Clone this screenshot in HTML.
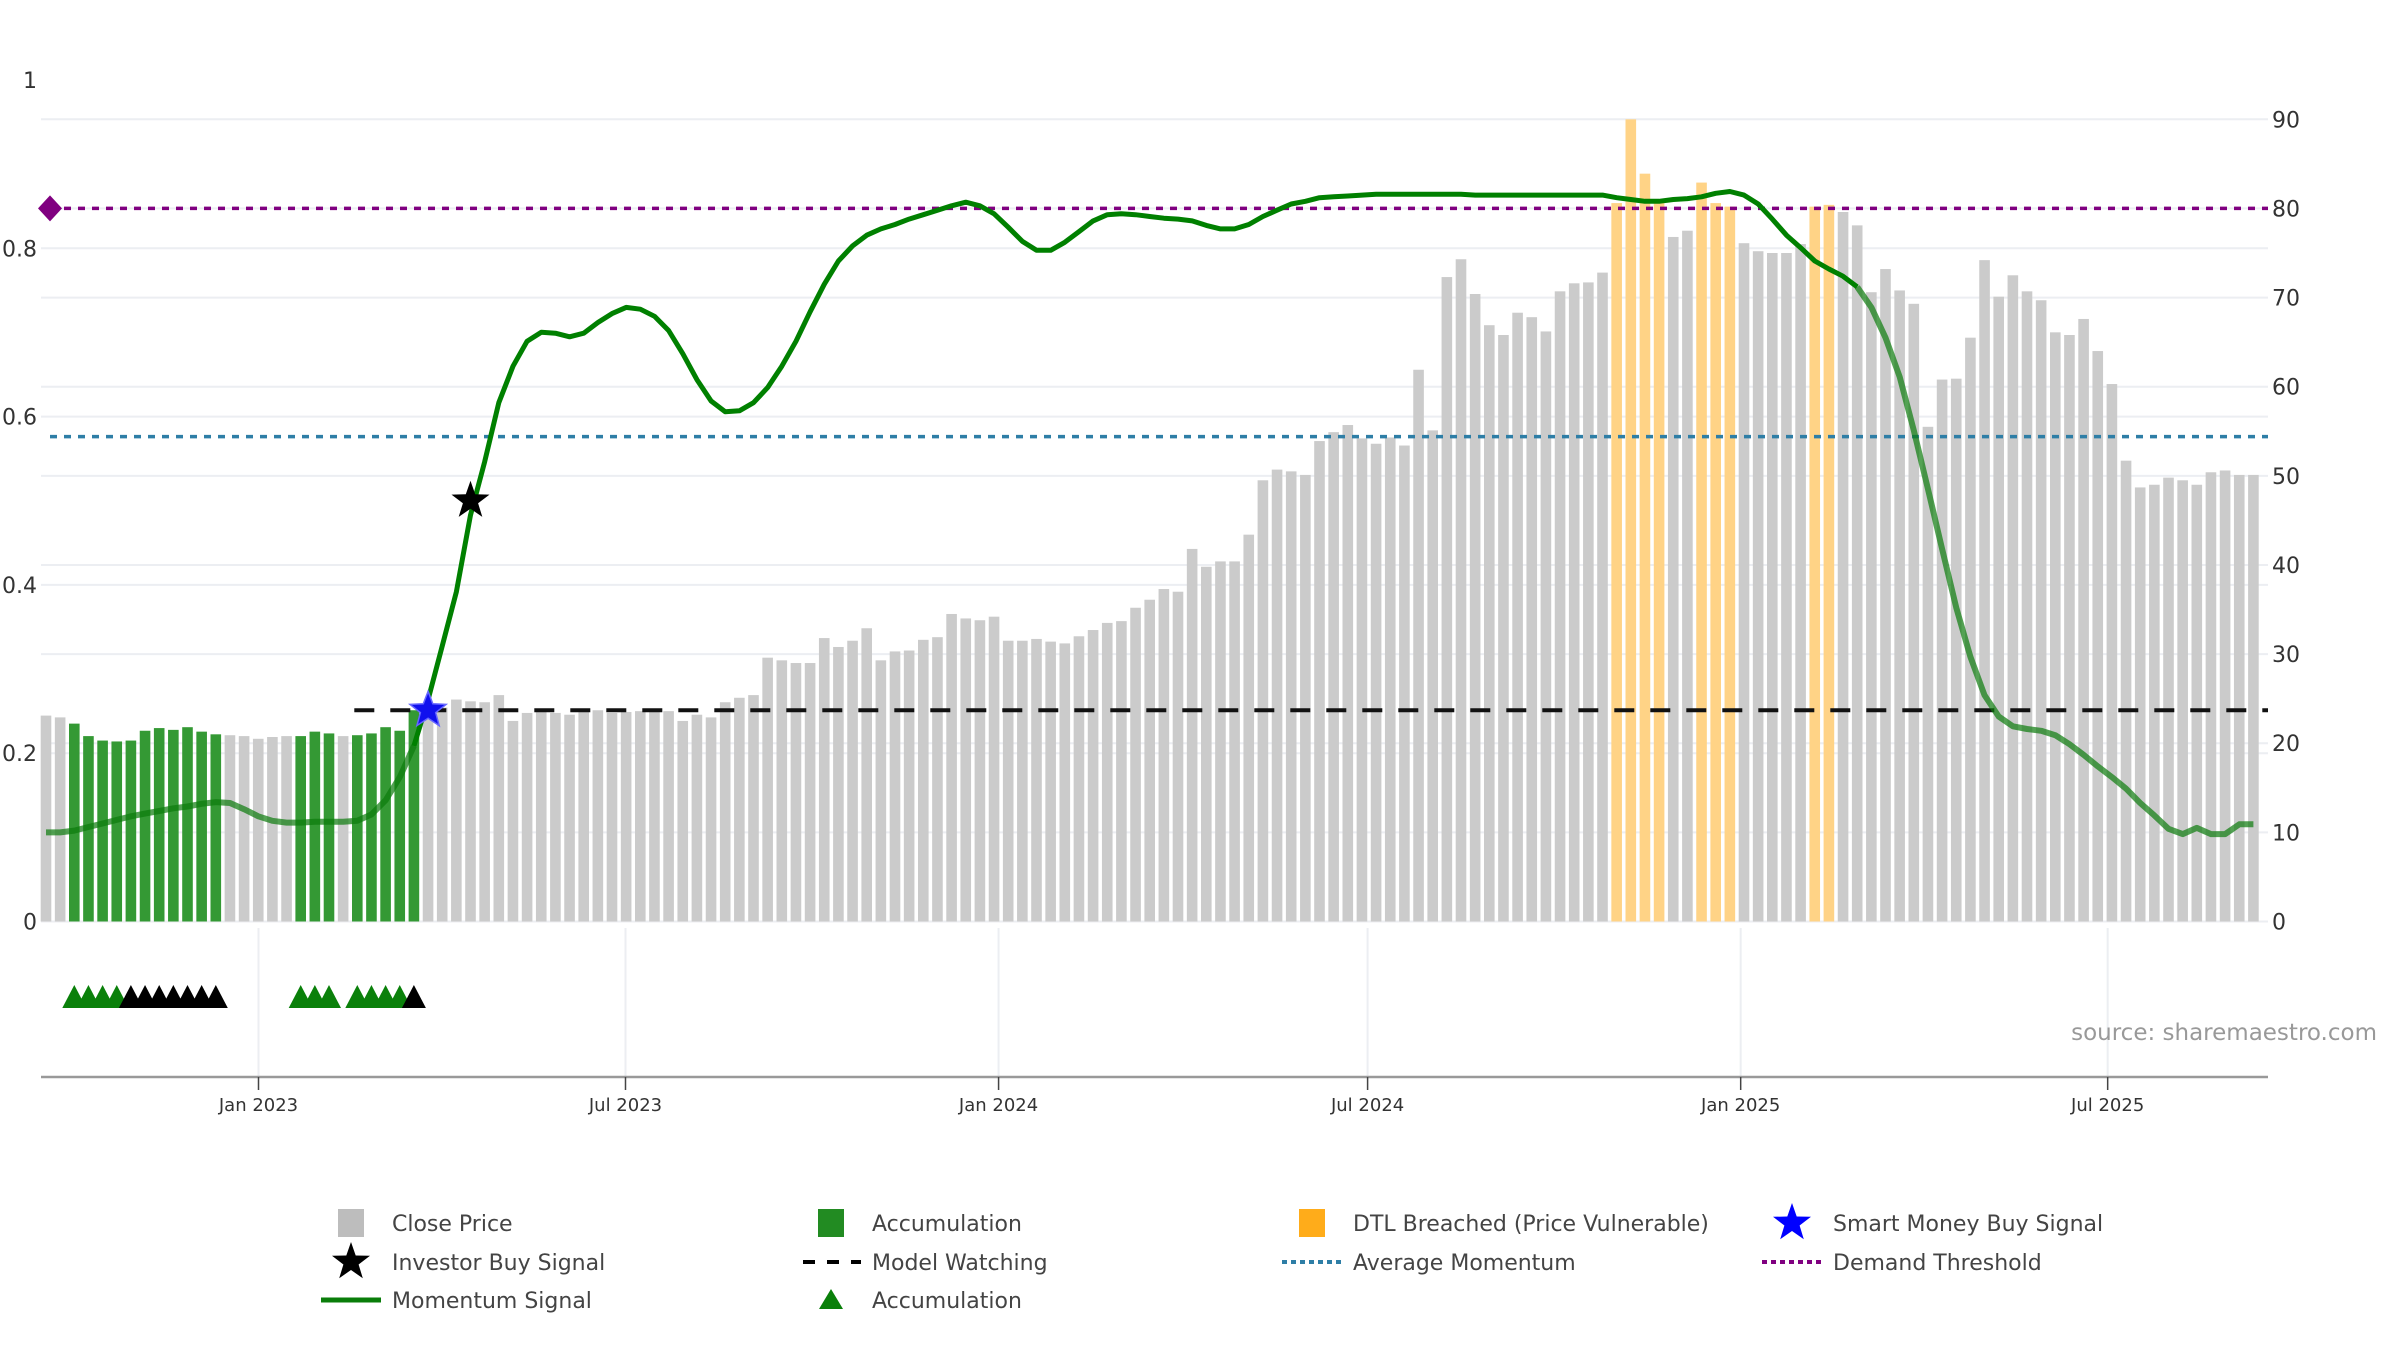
<!DOCTYPE html>
<html>
<head>
<meta charset="utf-8">
<style>
  html,body{margin:0;padding:0;background:#fff;}
  svg{display:block;font-family:"DejaVu Sans","Liberation Sans",sans-serif;}
</style>
</head>
<body>
<svg id="chart" width="2400" height="1350" viewBox="0 0 2400 1350" xmlns="http://www.w3.org/2000/svg">
  <g id="grid"></g>
  <g id="bars"></g>
  <g id="refs"></g>
  <g id="lines"></g>
  <g id="marks"></g>
  <g id="lower"></g>
  <g id="axes"></g>
  <g id="legend"></g>
  <text x="2377" y="1040" text-anchor="end" font-size="23" fill="#999">source: sharemaestro.com</text>
</svg>
<script>
// ---- data ----
const closePrices = [23.1,22.9,22.2,20.8,20.3,20.2,20.3,21.4,21.7,21.5,21.8,21.3,21.0,20.9,20.8,20.5,20.7,20.8,20.8,21.3,
21.1,20.8,20.9,21.1,21.8,21.4,23.7,24.0,24.0,24.9,24.7,24.6,25.4,22.5,23.4,23.7,23.4,23.2,23.6,23.7,
23.4,23.5,23.6,23.6,23.6,22.5,23.2,22.9,24.6,25.1,25.4,29.6,29.3,29.0,29.0,31.8,30.8,31.5,32.9,29.3,
30.3,30.4,31.6,31.9,34.5,34.0,33.8,34.2,31.5,31.5,31.7,31.4,31.2,32.0,32.7,33.5,33.7,35.2,36.1,37.3,
37.0,41.8,39.8,40.4,40.4,43.4,49.5,50.7,50.5,50.1,53.9,54.9,55.7,54.2,53.6,54.3,53.4,61.9,55.1,72.3,
74.3,70.4,66.9,65.8,68.3,67.8,66.2,70.7,71.6,71.7,72.8,80.6,90.0,83.9,80.6,76.8,77.5,82.9,80.6,80.2,
76.1,75.2,75.0,75.0,76.0,80.2,80.4,79.6,78.1,70.6,73.2,70.8,69.3,55.5,60.8,60.9,65.5,74.2,70.1,72.5,
70.7,69.7,66.1,65.8,67.6,64.0,60.3,51.7,48.7,49.0,49.8,49.5,49.0,50.4,50.6,50.1,50.1];
const momentum = [10.0,10.0,10.2,10.6,11.0,11.4,11.8,12.1,12.4,12.7,12.9,13.2,13.4,13.3,12.6,11.8,11.3,11.1,11.1,11.2,
11.2,11.2,11.3,12.0,13.6,16.2,19.7,24.9,30.9,37.0,45.6,51.6,58.2,62.3,65.1,66.1,66.0,65.6,66.0,67.2,
68.2,68.9,68.7,67.9,66.3,63.7,60.8,58.4,57.2,57.3,58.2,59.9,62.3,65.1,68.4,71.5,74.1,75.8,77.0,77.7,
78.2,78.8,79.3,79.8,80.3,80.7,80.3,79.4,77.9,76.3,75.3,75.3,76.2,77.4,78.6,79.3,79.4,79.3,79.1,78.9,
78.8,78.6,78.1,77.7,77.7,78.2,79.1,79.8,80.5,80.8,81.2,81.3,81.4,81.5,81.6,81.6,81.6,81.6,81.6,81.6,
81.6,81.5,81.5,81.5,81.5,81.5,81.5,81.5,81.5,81.5,81.5,81.2,81.0,80.8,80.8,81.0,81.1,81.3,81.7,81.9,
81.5,80.5,78.8,77.0,75.6,74.1,73.2,72.4,71.2,68.9,65.5,61.1,55.1,48.5,41.8,35.2,29.7,25.4,23.0,21.9,
21.6,21.4,20.9,19.9,18.7,17.4,16.2,14.9,13.3,11.9,10.4,9.8,10.5,9.8,9.8,10.9,10.9];
const accumBars = [2,3,4,5,6,7,8,9,10,11,12,18,19,20,22,23,24,25,26];
const dtlBars = [111,112,113,114,117,118,119,125,126];
const triGreen = [2,3,4,5,18,19,20,22,23,24,25];
const triBlack = [6,7,8,9,10,11,12,26];
const demandThreshold = 80;
const avgMomentum = 54.4;
const modelWatching = 23.7;
const modelWatchingStart = 22;
const smartMoneyIdx = 27;
const investorIdx = 30;
const investorLeftVal = 0.5;
const rightTicks = [0,10,20,30,40,50,60,70,80,90];
const leftTicks = [0,0.2,0.4,0.6,0.8,1];
const leftTickLabels = ["0","0.2","0.4","0.6","0.8","1"];
const dateTicks = ["2023-01-01","2023-07-01","2024-01-01","2024-07-01","2025-01-01","2025-07-01"];
const dateTickLabels = ["Jan 2023","Jul 2023","Jan 2024","Jul 2024","Jan 2025","Jul 2025"];

// ---- scales ----
const NS="http://www.w3.org/2000/svg";
const PL=41, PR=2268, Y0=921.5;
const yR = v => Y0 - v*(Y0-119.3)/90;
const yL = v => Y0 - v*(Y0-80)/1;
const xBar = i => 46 + i*14.15;
const dayMs=86400000, d0=Date.UTC(2023,0,1);
const xDate = s => { const p=s.split('-'); return 258.5 + (Date.UTC(+p[0],+p[1]-1,+p[2])-d0)/dayMs*2.0276; };
function mk(tag, attrs, parent){ const e=document.createElementNS(NS,tag); for(const k in attrs) e.setAttribute(k,attrs[k]); parent.appendChild(e); return e; }
const G = id => document.getElementById(id);
function starPts(cx,cy,ro,ri){ let p=[]; for(let k=0;k<10;k++){const a=-Math.PI/2+k*Math.PI/5; const r=k%2?ri:ro; p.push((cx+r*Math.cos(a)).toFixed(1)+','+(cy+r*Math.sin(a)).toFixed(1));} return p.join(' '); }

// ---- gridlines ----
rightTicks.forEach(v=>{
  const l=mk('line',{x1:PL,x2:PR,y1:yR(v),y2:yR(v),stroke:'#eceef2','stroke-width':2},G('grid'));
  
  
});
leftTicks.slice(0,5).forEach(v=>{
  const l=mk('line',{x1:PL,x2:PR,y1:yL(v),y2:yL(v),stroke:'#eceef2','stroke-width':2},G('grid'));
  
  
});

// ---- bars ----
closePrices.forEach((v,i)=>{
  let col='#cbcbcb';
  if(accumBars.includes(i)) col='#349934';
  if(dtlBars.includes(i)) col='#ffd386';
  const r=mk('rect',{x:xBar(i)-5.3,y:yR(v),width:10.6,height:Y0-yR(v),fill:col},G('bars'));
  
  
});

// ---- reference lines ----
const dl=mk('line',{x1:50,x2:PR,y1:yR(demandThreshold),y2:yR(demandThreshold),stroke:'#800080','stroke-width':3.5,'stroke-dasharray':'7,7'},G('refs'));


const dm=mk('polygon',{points:`${50-12},${yR(demandThreshold)} 50,${yR(demandThreshold)-13} ${50+12},${yR(demandThreshold)} 50,${yR(demandThreshold)+13}`,fill:'#800080'},G('refs'));


const al=mk('line',{x1:50,x2:PR,y1:yR(avgMomentum),y2:yR(avgMomentum),stroke:'#2e7ea6','stroke-width':3.5,'stroke-dasharray':'7,7'},G('refs'));


const ml=mk('line',{x1:xBar(modelWatchingStart)-3,x2:PR,y1:yR(modelWatching),y2:yR(modelWatching),stroke:'#111','stroke-width':4,'stroke-dasharray':'20,16'},G('refs'));



// ---- momentum line ----
function pathFor(a,b){ let d=''; for(let i=a;i<=b;i++) d+=(i===a?'M':'L')+xBar(i).toFixed(1)+','+yR(momentum[i]).toFixed(1); return d; }
const lp1=mk('path',{d:pathFor(0,26),fill:'none',stroke:'#0b7a0b','stroke-opacity':0.7,'stroke-width':6,'stroke-linejoin':'round'},G('lines'));


const lp2=mk('path',{d:pathFor(26,128),fill:'none',stroke:'#008000','stroke-width':5,'stroke-linejoin':'round'},G('lines'));


const lp3=mk('path',{d:pathFor(128,closePrices.length-1),fill:'none',stroke:'#0b7a0b','stroke-opacity':0.7,'stroke-width':6,'stroke-linejoin':'round'},G('lines'));



// ---- signal markers ----
const sm=mk('polygon',{points:starPts(xBar(smartMoneyIdx),yR(modelWatching),19,8),fill:'#1010ee',stroke:'#6666ff','stroke-width':1.5},G('marks'));


const ib=mk('polygon',{points:starPts(xBar(investorIdx),yL(investorLeftVal),20,8),fill:'#000'},G('marks'));



// ---- lower subplot ----
dateTicks.forEach(s=>{
  const l=mk('line',{x1:xDate(s),x2:xDate(s),y1:928,y2:1076,stroke:'#eceef2','stroke-width':2},G('lower'));
  
  
});
function tri(i,col){
  const x=xBar(i), yb=1008, h=23, w=12;
  const t=mk('polygon',{points:`${x-w},${yb} ${x},${yb-h} ${x+w},${yb}`,fill:col},G('lower'));
  
  
}
triGreen.forEach(i=>tri(i,'#0a800a'));
triBlack.forEach(i=>tri(i,'#000'));

// ---- axes ----
const ax=mk('line',{x1:PL,x2:PR,y1:1077,y2:1077,stroke:'#999','stroke-width':2.5},G('axes'));


dateTicks.forEach((s,k)=>{
  const x=xDate(s);
  const t=mk('line',{x1:x,x2:x,y1:1077,y2:1090,stroke:'#444','stroke-width':1.5},G('axes'));
  
  
  const lb=mk('text',{x:x,y:1111,'text-anchor':'middle','font-size':18,fill:'#333'},G('axes'));
  lb.textContent=dateTickLabels[k];
  
  
});
rightTicks.forEach(v=>{
  const lb=mk('text',{x:2272,y:yR(v)+8,'font-size':22,fill:'#333'},G('axes'));
  lb.textContent=String(v);
  
  
});
leftTicks.forEach((v,k)=>{
  const lb=mk('text',{x:37,y:yL(v)+8,'text-anchor':'end','font-size':22,fill:'#333'},G('axes'));
  lb.textContent=leftTickLabels[k];
  
  
});

// ---- legend ----
const legendItems = [
  ['Close Price','rect','#bdbdbd',0,0],['Accumulation','rect','#228b22',1,0],['DTL Breached (Price Vulnerable)','rect','#ffac1a',2,0],['Smart Money Buy Signal','starB','#0000ff',3,0],
  ['Investor Buy Signal','starK','#000',0,1],['Model Watching','dash','#000',1,1],['Average Momentum','dot','#2e7ea6',2,1],['Demand Threshold','dot','#800080',3,1],
  ['Momentum Signal','line','#0a7d0a',0,2],['Accumulation','tri','#0a800a',1,2]
];
const colX=[351,831,1312,1792], rowY=[1223,1262,1300];
legendItems.forEach(it=>{
  const cx=colX[it[3]], cy=rowY[it[4]];
  const g=mk('g',{},G('legend'));
  
  
  if(it[1]==='rect') mk('rect',{x:cx-13,y:cy-14,width:26,height:28,fill:it[2]},g);
  else if(it[1]==='starB'||it[1]==='starK') mk('polygon',{points:starPts(cx,cy,20,8),fill:it[2]},g);
  else if(it[1]==='dash') mk('line',{x1:cx-30,x2:cx+30,y1:cy,y2:cy,stroke:it[2],'stroke-width':4,'stroke-dasharray':'12,12','stroke-dashoffset':'-2'},g);
  else if(it[1]==='dot') mk('line',{x1:cx-30,x2:cx+30,y1:cy,y2:cy,stroke:it[2],'stroke-width':4,'stroke-dasharray':'5,4'},g);
  else if(it[1]==='line') mk('line',{x1:cx-30,x2:cx+30,y1:cy,y2:cy,stroke:it[2],'stroke-width':5},g);
  else if(it[1]==='tri') mk('polygon',{points:`${cx-12},${cy+9} ${cx},${cy-11} ${cx+12},${cy+9}`,fill:it[2]},g);
  const t=mk('text',{x:cx+41,y:cy+8,'font-size':22,fill:'#444'},g);
  t.textContent=it[0];
});
</script>
</body>
</html>
